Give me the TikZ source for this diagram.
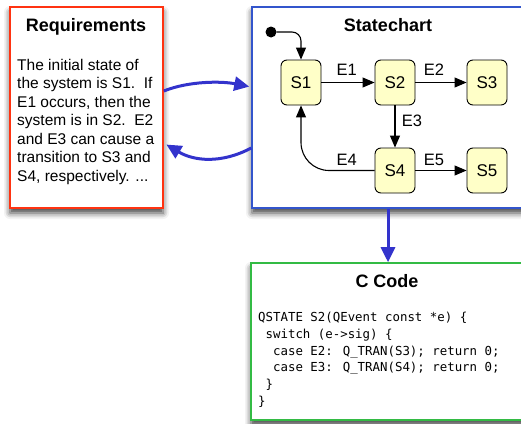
\documentclass[tikz,border=0pt]{standalone}
\usepackage{fontspec}
\setmainfont{Liberation Sans}
\newfontfamily\codefont{DejaVu Sans Mono}
\usetikzlibrary{arrows.meta,shadows.blur}
\definecolor{reqred}{RGB}{255,51,17}
\definecolor{scblue}{RGB}{51,85,204}
\definecolor{codegreen}{RGB}{51,187,68}
\definecolor{arrowblue}{RGB}{51,51,204}
\definecolor{statefill}{RGB}{255,255,200}
\tikzset{
  panel/.style={draw, line width=1.6pt, fill=white, inner sep=0pt,
    blur shadow={shadow xshift=0pt, shadow yshift=-5pt, shadow blur radius=6pt, shadow opacity=75}},
  paneltitle/.style={font=\fontsize{18}{20}\selectfont\bfseries, anchor=base, inner sep=0pt},
  statebox/.style={draw, line width=0.9pt, fill=statefill, rounded corners=6pt,
    minimum width=40pt, minimum height=45pt, inner sep=0pt, font=\fontsize{17}{19}\selectfont},
  evlabel/.style={font=\fontsize{16.5}{18}\selectfont, anchor=base, inner sep=0pt},
  trans/.style={line width=1.1pt, -{Triangle[length=12pt,width=10pt]}},
  bigarrow/.style={line width=3pt, arrowblue, -{Triangle[length=15pt,width=14pt]}},
}
\begin{document}
\begin{tikzpicture}[x=1pt,y=-1pt]
\useasboundingbox (0,0) rectangle (521,423);
\clip (0,0) rectangle (521,423);
% panels
\node[panel, draw=reqred, minimum width=153pt, minimum height=201pt] (req) at (86.5,107.5) {};
\node[panel, draw=scblue, minimum width=278pt, minimum height=201pt] (sc) at (391,107.5) {};
\node[panel, draw=codegreen, minimum width=279pt, minimum height=157pt] (code) at (390.5,341.5) {};
% titles
\node[paneltitle] (reqtitle) at (86,31.5) {Requirements};
\node[paneltitle] (sctitle) at (388,31.5) {Statechart};
\node[paneltitle] (codetitle) at (387,287.3) {C Code};
% requirements text
\node[anchor=north west, inner sep=0pt, align=left, font=\fontsize{15.5}{18.5}\selectfont] (reqtext) at (17,58.7)
  {The initial state of\\the system is S1.~~If\\E1 occurs, then the\\system is in S2.~~E2\\and E3 can cause a\\transition to S3 and\\S4, respectively. ...};
% code text
\node[anchor=north west, inner sep=0pt, align=left, font=\codefont\fontsize{12.4}{16.9}\selectfont] (codetext) at (258,311.6)
  {QSTATE S2(QEvent const *e) \{\\
   \hphantom{x}switch (e->sig) \{\\
   \hphantom{xx}case E2: Q\_TRAN(S3); return 0;\\
   \hphantom{xx}case E3: Q\_TRAN(S4); return 0;\\
   \hphantom{x}\}\\
   \}};
% states
\node[statebox] (s1) at (301,82.5) {S1};
\node[statebox] (s2) at (395,82.5) {S2};
\node[statebox] (s3) at (487,82.5) {S3};
\node[statebox] (s4) at (395,170.5) {S4};
\node[statebox] (s5) at (487,170.5) {S5};
\node[circle, fill=black, minimum size=11pt, inner sep=0pt] (init) at (271,32) {};
% transitions
\draw[trans, rounded corners=9pt] (init.east) -| (s1.north);
\draw[trans] (s1) -- (s2);
\draw[trans] (s2) -- (s3);
\draw[trans] (s2) -- (s4);
\draw[trans] (s4) -- (s5);
\draw[trans, rounded corners=28pt] (s4.west) -| (s1.south);
% event labels
\node[evlabel] (e1) at (346.7,75) {E1};
\node[evlabel] (e2) at (434,75) {E2};
\node[evlabel] (e3) at (412,126.7) {E3};
\node[evlabel] (e4) at (346.7,165) {E4};
\node[evlabel] (e5) at (434,165) {E5};
% big blue arrows
\draw[bigarrow, shorten >=2pt] ([yshift=16.5pt]req.east) .. controls +(25,-10) and +(-30,-6) .. ([yshift=20.5pt]sc.west);
\draw[bigarrow, shorten >=3pt] ([yshift=-40.5pt]sc.west) .. controls +(-30,16) and +(30,18) .. ([yshift=-35.5pt]req.east);
\draw[bigarrow] ([xshift=-3pt]sc.south) -- ([xshift=-2.5pt]code.north);
\end{tikzpicture}
\end{document}
